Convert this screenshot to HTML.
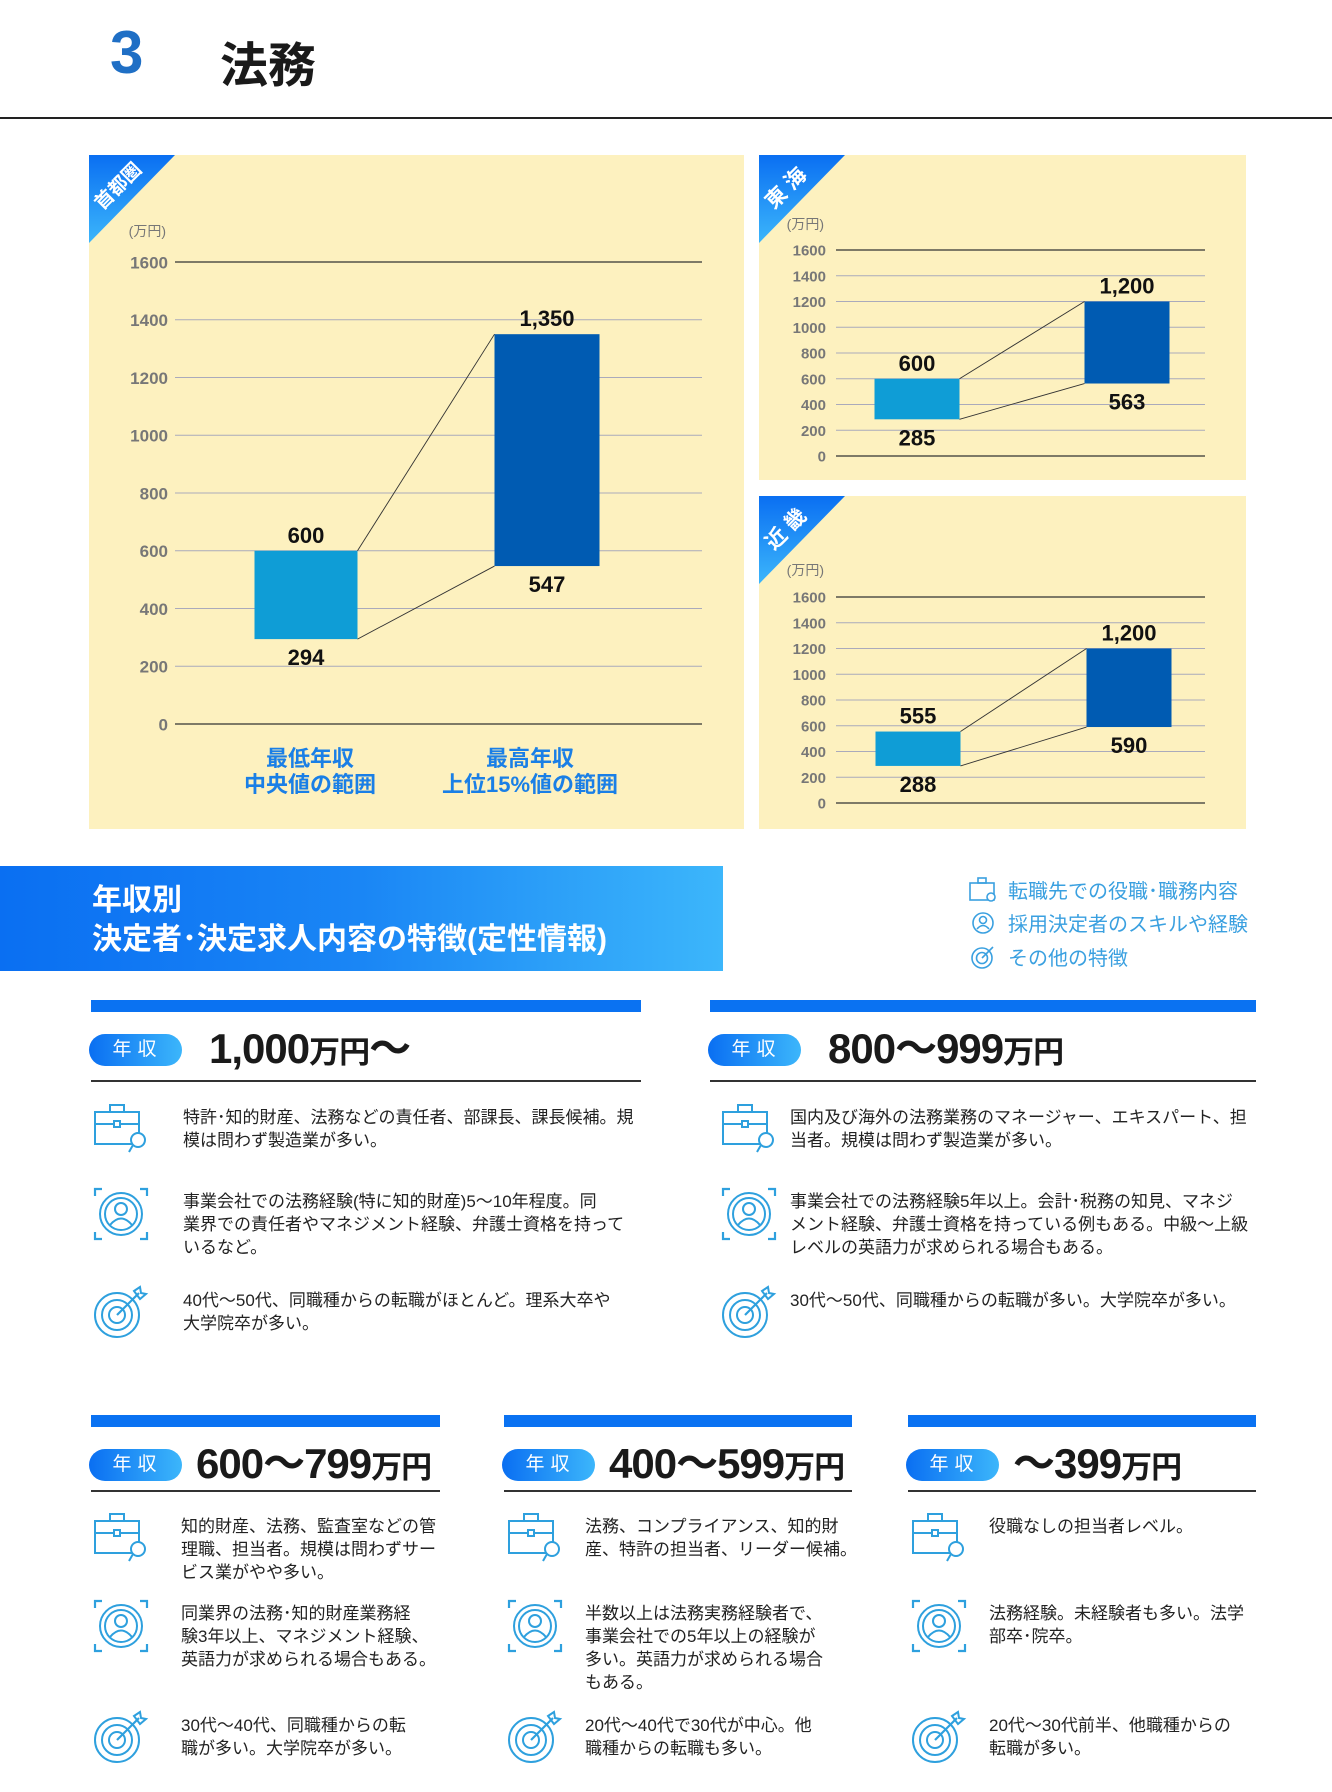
<!DOCTYPE html>
<html lang="ja"><head><meta charset="utf-8">
<style>
*{margin:0;padding:0;box-sizing:border-box}
body{width:1332px;height:1792px;position:relative;background:#fff;font-family:"Liberation Sans","Noto Sans CJK JP",sans-serif;overflow:hidden;color:#1a1a1a}
.abs{position:absolute}
.banner{left:0;top:866px;width:723px;height:105px;background:linear-gradient(90deg,#0a6ff2 0%,#1a86f5 50%,#3cb6fb 100%);color:#fff;font-weight:bold;font-size:30px;line-height:39px;padding:15px 0 0 92px}
.legend{left:968px;font-size:20px;color:#3aa0e0;display:flex;align-items:center;gap:10px}
.bluebar{height:12px;background:#0a72f2}
.rule{height:1.5px;background:#333}
.badge{width:93px;height:32px;border-radius:16px;background:linear-gradient(90deg,#0a6ff2,#3cb6fb);color:#fff;font-size:19px;letter-spacing:6px;text-align:center;line-height:32px;padding-left:4px}
.title{font-size:42px;font-weight:bold;letter-spacing:-1px;line-height:48px}
.title small{font-size:31px}
.item{font-size:17px;line-height:23px;color:#222}
</style></head><body>
<div class="abs" style="left:110px;top:18px;font-size:60px;font-weight:bold;color:#1f6fc5">3</div>
<div class="abs" style="left:220px;top:26px;font-size:48px;font-weight:bold">法務</div>
<div class="abs" style="left:0;top:117px;width:1332px;height:1.5px;background:#222"></div>

<svg id="charts" class="abs" style="left:0;top:0" width="1332" height="840"></svg>

<div class="abs banner">年収別<br>決定者･決定求人内容の特徴(定性情報)</div>

<div class="abs legend" style="top:875px">
<svg width="30" height="28" viewBox="0 0 30 28"><rect x="2" y="7" width="24" height="17" fill="none" stroke="#3aa0e0" stroke-width="1.6"/><rect x="10" y="2" width="8" height="5" fill="none" stroke="#3aa0e0" stroke-width="1.6"/><circle cx="23" cy="21" r="4" fill="#fff" stroke="#3aa0e0" stroke-width="1.6"/></svg><span>転職先での役職･職務内容</span></div>
<div class="abs legend" style="top:908px">
<svg width="30" height="28" viewBox="0 0 30 28"><circle cx="15" cy="14" r="10" fill="none" stroke="#3aa0e0" stroke-width="1.6"/><circle cx="15" cy="11" r="3.5" fill="none" stroke="#3aa0e0" stroke-width="1.6"/><path d="M9 20 Q15 13 21 20" fill="none" stroke="#3aa0e0" stroke-width="1.6"/></svg><span>採用決定者のスキルや経験</span></div>
<div class="abs legend" style="top:942px">
<svg width="30" height="28" viewBox="0 0 30 28"><circle cx="14" cy="15" r="10" fill="none" stroke="#3aa0e0" stroke-width="1.6"/><circle cx="14" cy="15" r="5.5" fill="none" stroke="#3aa0e0" stroke-width="1.6"/><path d="M14 15 L25 4" stroke="#3aa0e0" stroke-width="1.6"/></svg><span>その他の特徴</span></div>

<div id="sections"></div>

<script>
// ---------- chart data ----------
const regions = ["首都圏", "東海", "近畿"];
const minLow = [294, 285, 288];
const minHigh = [600, 600, 555];
const maxLow = [547, 563, 590];
const maxHigh = [1350, 1200, 1200];
const tickValues = [0, 200, 400, 600, 800, 1000, 1200, 1400, 1600];
const tickLabels = ["0", "200", "400", "600", "800", "1000", "1200", "1400", "1600"];
const yMax = 1600;

const NS = "http://www.w3.org/2000/svg";
const svg = document.getElementById("charts");
function mk(tag, attrs, parent) {
  const e = document.createElementNS(NS, tag);
  for (const k in attrs) e.setAttribute(k, attrs[k]);
  (parent || svg).appendChild(e);
  return e;
}
function fmt(v) { return v.toLocaleString("en-US"); }

const layouts = [
  {px:89, py:155, pw:655, ph:674, x0:175, x1:702, yTop:262, yZero:724, c1:306, w1:103, c2:547, w2:105, tx:168, tf:17, uy:236},
  {px:759, py:155, pw:487, ph:325, x0:836, x1:1205, yTop:250, yZero:456, c1:917, w1:85, c2:1127, w2:85, tx:826, tf:15, uy:229},
  {px:759, py:496, pw:487, ph:333, x0:836, x1:1205, yTop:597, yZero:803, c1:918, w1:85, c2:1129, w2:85, tx:826, tf:15, uy:575}
];

regions.forEach((name, i) => {
  const L = layouts[i];
  const g = mk("g", {});
  
  
  const y = v => L.yZero - (v / yMax) * (L.yZero - L.yTop);
  const bg = mk("rect", {x:L.px, y:L.py, width:L.pw, height:L.ph, fill:"#fdf1bf"}, g);
  
  
  const grad = "cg" + i;
  const defs = mk("defs", {}, g);
  const lg = mk("linearGradient", {id:grad, x1:"0", y1:"0", x2:"0", y2:"1"}, defs);
  mk("stop", {offset:"0", "stop-color":"#0a6ff2"}, lg);
  mk("stop", {offset:"1", "stop-color":"#3cb6fb"}, lg);
  const tri = mk("path", {d:`M${L.px} ${L.py} H${L.px+86} L${L.px} ${L.py+88} Z`, fill:`url(#${grad})`}, g);
  
  
  const rt = mk("text", {x:L.px+30, y:L.py+32, fill:"#fff", "font-size":i===0?19:21, "font-weight":"bold", "text-anchor":"middle", "letter-spacing":i===0?0:6, transform:`rotate(-45 ${L.px+30} ${L.py+32})`, "dominant-baseline":"middle"}, g);
  rt.textContent = name;
  
  
  const ut = mk("text", {x:L.tx - 2, y:L.uy, fill:"#777", "font-size":14, "text-anchor":"end"}, g);
  ut.textContent = "(万円)";
  
  
  tickValues.forEach((v, k) => {
    const edge = (v === 0 || v === yMax);
    const ln = mk("line", {x1:L.x0, x2:L.x1, y1:y(v), y2:y(v), stroke:edge?"#333":"#aab", "stroke-width":edge?1.2:1}, g);
    
    
    const t = mk("text", {x:L.tx, y:y(v) + L.tf*0.38, fill:"#777", "font-size":L.tf, "font-weight":"bold", "text-anchor":"end"}, g);
    t.textContent = tickLabels[k];
    
    
  });
  const c1 = mk("line", {x1:L.c1+L.w1/2, y1:y(minHigh[i]), x2:L.c2-L.w2/2, y2:y(maxHigh[i]), stroke:"#333", "stroke-width":0.9}, g);
  
  
  const c2 = mk("line", {x1:L.c1+L.w1/2, y1:y(minLow[i]), x2:L.c2-L.w2/2, y2:y(maxLow[i]), stroke:"#333", "stroke-width":0.9}, g);
  
  
  const b1 = mk("rect", {x:L.c1-L.w1/2, y:y(minHigh[i]), width:L.w1, height:y(minLow[i])-y(minHigh[i]), fill:"#0f9dd6"}, g);
  
  
  const b2 = mk("rect", {x:L.c2-L.w2/2, y:y(maxHigh[i]), width:L.w2, height:y(maxLow[i])-y(maxHigh[i]), fill:"#005bb2"}, g);
  
  
  [[L.c1, minHigh[i], -8], [L.c1, minLow[i], 26], [L.c2, maxHigh[i], -8], [L.c2, maxLow[i], 26]].forEach(([cx, v, dy]) => {
    const t = mk("text", {x:cx, y:y(v) + dy, fill:"#111", "font-size":22, "font-weight":"bold", "text-anchor":"middle"}, g);
    t.textContent = fmt(v);
    
    
  });
  if (i === 0) {
    [["最低年収", "中央値の範囲", L.c1 + 4], ["最高年収", "上位15%値の範囲", L.c2 - 17]].forEach(([a, b, cx]) => {
      const t = mk("text", {x:cx, y:766, fill:"#1a7fe6", "font-size":22, "font-weight":"bold", "text-anchor":"middle"}, g);
      t.textContent = a;
      
      
      const t2 = mk("text", {x:cx, y:792, fill:"#1a7fe6", "font-size":22, "font-weight":"bold", "text-anchor":"middle"}, g);
      t2.textContent = b;
      
      
    });
  }
});

// ---------- sections ----------
const ICON = {
 brief:'<svg width="58" height="52" viewBox="0 0 58 52"><rect x="3" y="10" width="44" height="32" fill="none" stroke="#2ea0de" stroke-width="2"/><rect x="18" y="3" width="14" height="7" fill="none" stroke="#2ea0de" stroke-width="2"/><path d="M3 22 H47" stroke="#2ea0de" stroke-width="2"/><rect x="22" y="19" width="6" height="6" fill="#fff" stroke="#2ea0de" stroke-width="2"/><circle cx="46" cy="38" r="7" fill="#fff" stroke="#2ea0de" stroke-width="2"/><path d="M41 43 L37 50" stroke="#2ea0de" stroke-width="2"/></svg>',
 person:'<svg width="58" height="56" viewBox="0 0 58 56"><path d="M3 10 V3 H10 M48 3 H55 V10 M55 46 V53 H48 M10 53 H3 V46" fill="none" stroke="#2ea0de" stroke-width="2.2"/><circle cx="29" cy="28" r="21" fill="none" stroke="#2ea0de" stroke-width="2"/><circle cx="29" cy="28" r="16" fill="none" stroke="#2ea0de" stroke-width="2"/><circle cx="29" cy="23" r="6" fill="none" stroke="#2ea0de" stroke-width="2"/><path d="M18 39 Q29 26 40 39" fill="none" stroke="#2ea0de" stroke-width="2"/></svg>',
 target:'<svg width="58" height="56" viewBox="0 0 58 56"><circle cx="25" cy="30" r="22" fill="none" stroke="#2ea0de" stroke-width="2"/><circle cx="25" cy="30" r="15" fill="none" stroke="#2ea0de" stroke-width="2"/><circle cx="25" cy="30" r="8" fill="none" stroke="#2ea0de" stroke-width="2"/><path d="M25 30 L47 8" stroke="#2ea0de" stroke-width="2.2"/><path d="M42 6 L48 2 L49 8 L54 9 L48 14 Z" fill="none" stroke="#2ea0de" stroke-width="2"/></svg>'
};
const secs = [
 {x:91, w:550, top:1000, txtX:183, iconX:92, title:'1,000<small>万円</small>～', items:[
   ['brief',1106,'特許･知的財産、法務などの責任者、部課長、課長候補。規<br>模は問わず製造業が多い。'],
   ['person',1190,'事業会社での法務経験(特に知的財産)5～10年程度。同<br>業界での責任者やマネジメント経験、弁護士資格を持って<br>いるなど。'],
   ['target',1289,'40代～50代、同職種からの転職がほとんど。理系大卒や<br>大学院卒が多い。']]},
 {x:710, w:546, top:1000, txtX:790, iconX:720, title:'800～999<small>万円</small>', items:[
   ['brief',1106,'国内及び海外の法務業務のマネージャー、エキスパート、担<br>当者。規模は問わず製造業が多い。'],
   ['person',1190,'事業会社での法務経験5年以上。会計･税務の知見、マネジ<br>メント経験、弁護士資格を持っている例もある。中級～上級<br>レベルの英語力が求められる場合もある。'],
   ['target',1289,'30代～50代、同職種からの転職が多い。大学院卒が多い。']]},
 {x:91, w:349, top:1415, txtX:181, iconX:92, title:'600～799<small>万円</small>', items:[
   ['brief',1515,'知的財産、法務、監査室などの管<br>理職、担当者。規模は問わずサー<br>ビス業がやや多い。'],
   ['person',1602,'同業界の法務･知的財産業務経<br>験3年以上、マネジメント経験、<br>英語力が求められる場合もある。'],
   ['target',1714,'30代～40代、同職種からの転<br>職が多い。大学院卒が多い。']]},
 {x:504, w:348, top:1415, txtX:585, iconX:506, title:'400～599<small>万円</small>', items:[
   ['brief',1515,'法務、コンプライアンス、知的財<br>産、特許の担当者、リーダー候補。'],
   ['person',1602,'半数以上は法務実務経験者で、<br>事業会社での5年以上の経験が<br>多い。英語力が求められる場合<br>もある。'],
   ['target',1714,'20代～40代で30代が中心。他<br>職種からの転職も多い。']]},
 {x:908, w:348, top:1415, txtX:989, iconX:910, title:'～399<small>万円</small>', items:[
   ['brief',1515,'役職なしの担当者レベル。'],
   ['person',1602,'法務経験。未経験者も多い。法学<br>部卒･院卒。'],
   ['target',1714,'20代～30代前半、他職種からの<br>転職が多い。']]}
];
const host = document.getElementById('sections');
secs.forEach((s, i) => {
  const wrap = document.createElement('div');
  
  
  let h = `<div class="abs bluebar" style="left:${s.x}px;top:${s.top}px;width:${s.w}px"></div>`;
  h += `<div class="abs badge" style="left:${s.x-2}px;top:${s.top+34}px">年収</div>`;
  h += `<div class="abs title" style="left:${s.x+(i<2?118:105)}px;top:${s.top+25}px">${s.title}</div>`;
  h += `<div class="abs rule" style="left:${s.x}px;top:${s.top+(i<2?80:75)}px;width:${s.w}px"></div>`;
  s.items.forEach(([ic, y, t]) => {
    h += `<div class="abs" style="left:${s.iconX}px;top:${y-4}px">${ICON[ic]}</div>`;
    h += `<div class="abs item" style="left:${s.txtX}px;top:${y}px">${t}</div>`;
  });
  wrap.innerHTML = h;
  host.appendChild(wrap);
});
</script>
</body></html>
